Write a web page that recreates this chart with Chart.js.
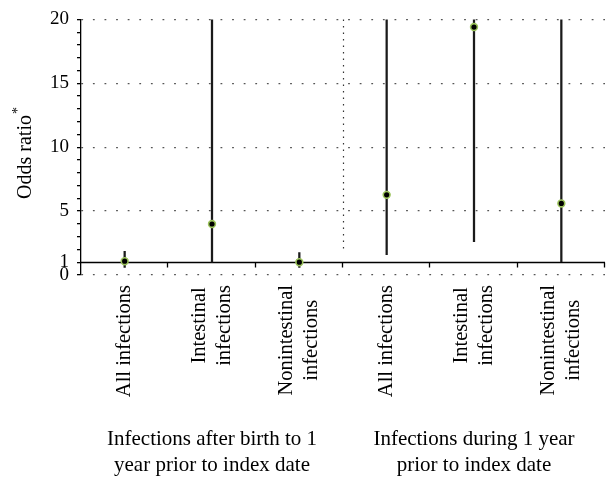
<!DOCTYPE html>
<html>
<head>
<meta charset="utf-8">
<script src="https://cdn.jsdelivr.net/npm/chart.js@4"></script>
<style>
  body { margin: 0; background: #fff; }
  #wrap { width: 606px; height: 478px; position: relative; }
</style>
</head>
<body>
<div id="wrap"><canvas id="orChart"></canvas></div>
<script>
// --- data ---
const categories = [
  ["All infections"],
  ["Intestinal", "infections"],
  ["Nonintestinal", "infections"],
  ["All infections"],
  ["Intestinal", "infections"],
  ["Nonintestinal", "infections"],
];
const oddsRatio = [1.08, 3.99, 1.0, 6.27, 19.4, 5.6];
const ciLower = [0.6, 1.0, 0.6, 1.6, 2.6, 1.05];
const ciUpper = [1.85, 20, 1.75, 20, 20, 20]; // upper limits run off the top of the axis
const yTickLabels = [0, 1, 5, 10, 15, 20];
const groupTitles = [
  { at: 1, lines: ["Infections after birth to 1", "year prior to index date"] },
  { at: 4, lines: ["Infections during 1 year", "prior to index date"] },
];

const FONT = "'Liberation Serif', 'DejaVu Serif', serif";

// extra drawing: reference line at OR=1, group divider, labels and titles
const decorations = {
  id: "decorations",
  beforeDatasetsDraw(chart) {
    const { ctx, chartArea, scales } = chart;
    const x = scales.x, y = scales.y;
    const y1 = Math.round(y.getPixelForValue(1)) + 0.5;
    const step = x.getPixelForValue(1) - x.getPixelForValue(0);

    ctx.save();
    // solid line at OR = 1 with ticks at category boundaries
    ctx.strokeStyle = "#000";
    ctx.lineWidth = 1.3;
    ctx.beginPath();
    ctx.moveTo(chartArea.left, y1);
    ctx.lineTo(chartArea.right, y1);
    for (let i = 0; i < categories.length; i++) {
      const bx = Math.round(x.getPixelForValue(i) + step / 2) - 0.5;
      ctx.moveTo(bx, y1);
      ctx.lineTo(bx, y1 + 5);
    }
    ctx.stroke();

    // dotted divider between the two groups
    const dx = Math.round(x.getPixelForValue(2) + step / 2) + 0.5;
    ctx.strokeStyle = "#333";
    ctx.lineWidth = 1.2;
    ctx.setLineDash([1.5, 5]);
    ctx.beginPath();
    ctx.moveTo(dx, y.getPixelForValue(20));
    ctx.lineTo(dx, y.getPixelForValue(1.7));
    ctx.stroke();
    ctx.restore();
  },
  afterDraw(chart) {
    const { ctx, scales } = chart;
    const x = scales.x;
    ctx.save();
    ctx.fillStyle = "#000";
    ctx.textBaseline = "middle";
    ctx.textAlign = "center";

    // category labels, rotated, lines centred on each other
    ctx.font = "20.5px " + FONT;
    categories.forEach((lines, i) => {
      const cx = x.getPixelForValue(i);
      const w = Math.max(...lines.map((l) => ctx.measureText(l).width));
      ctx.save();
      ctx.translate(cx, 285 + w / 2);
      ctx.rotate(-Math.PI / 2);
      lines.forEach((l, k) => ctx.fillText(l, 0, (k - (lines.length - 1) / 2) * 25));
      ctx.restore();
    });

    // group titles under the labels
    ctx.font = "21px " + FONT;
    groupTitles.forEach((g) => {
      const cx = x.getPixelForValue(g.at);
      g.lines.forEach((line, k) => ctx.fillText(line, cx, 439 + k * 26));
    });

    // y axis title with superscript asterisk
    ctx.translate(26, 157);
    ctx.rotate(-Math.PI / 2);
    ctx.font = "20px " + FONT;
    const w = ctx.measureText("Odds ratio").width;
    ctx.fillText("Odds ratio", 0, 0);
    ctx.font = "14px " + FONT;
    ctx.textAlign = "left";
    ctx.fillText("*", w / 2 + 1, -8);
    ctx.restore();
  },
};

const ctx = document.getElementById("orChart").getContext("2d");
new Chart(ctx, {
  type: "bar",
  data: {
    labels: categories,
    datasets: [
      {
        type: "line",
        label: "Odds ratio",
        data: oddsRatio,
        showLine: false,
        pointRadius: 3.4,
        pointBackgroundColor: "#000",
        pointBorderColor: "#9cc45c",
        pointBorderWidth: 1.6,
        order: 0,
      },
      {
        label: "95% CI",
        data: ciLower.map((lo, i) => [lo, ciUpper[i]]),
        backgroundColor: "#1a1a1a",
        barThickness: 1.6,
        borderSkipped: false,
        order: 1,
      },
    ],
  },
  options: {
    responsive: true,
    maintainAspectRatio: false,
    animation: false,
    layout: { autoPadding: false, padding: { top: 16, right: 1, left: 40, bottom: 0 } },
    plugins: {
      legend: { display: false },
      tooltip: { enabled: false },
    },
    scales: {
      x: {
        grid: { display: false },
        border: { display: false },
        ticks: { display: false },
        afterFit(scale) { scale.height = 203; },
      },
      y: {
        min: 0,
        max: 20,
        afterBuildTicks(scale) {
          scale.ticks = [];
          for (let v = 0; v <= 20; v++) scale.ticks.push({ value: v });
        },
        ticks: {
          autoSkip: false,
          color: "#000",
          padding: 8,
          font: { family: FONT, size: 19 },
          callback: (v) => (yTickLabels.includes(v) ? String(v) : ""),
        },
        grid: {
          color: (c) =>
            c.tick && yTickLabels.includes(c.tick.value) && c.tick.value !== 1
              ? "#555"
              : "rgba(0,0,0,0)",
          tickColor: "#000",
          tickLength: 4,
          lineWidth: 1.3,
        },
        border: { display: true, color: "#000", width: 1.3, dash: [1.8, 9.8] },
        afterFit(scale) { scale.width = 41; },
      },
    },
  },
  plugins: [decorations],
});
</script>
</body>
</html>
